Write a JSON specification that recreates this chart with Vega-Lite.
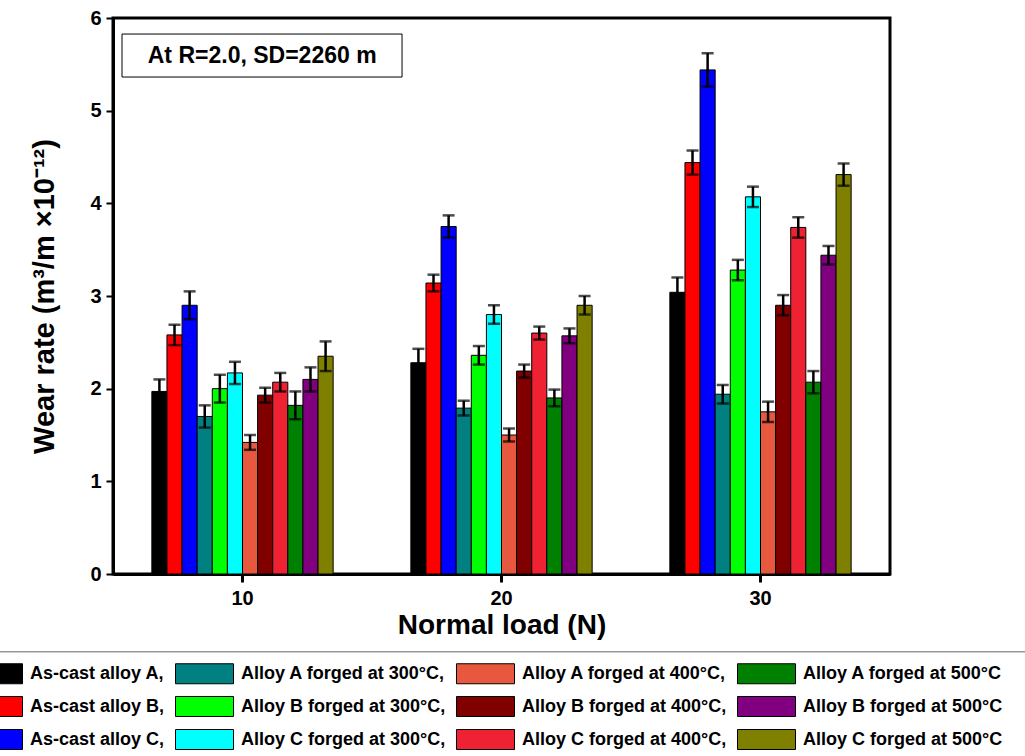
{
  "$schema": "https://vega.github.io/schema/vega-lite/v6.json",
  "width": 777,
  "height": 556,
  "autosize": {"type": "none"},
  "padding": {"left": 113, "top": 18, "right": 135, "bottom": 182},
  "background": "white",
  "config": {
    "view": {"stroke": "black", "strokeWidth": 3},
    "font": "Liberation Sans"
  },
  "layer": [
    {
      "data": {
        "values": [
          {"load": "10", "series": "As-cast alloy A", "value": 1.97, "err": 0.13},
          {"load": "10", "series": "As-cast alloy B", "value": 2.58, "err": 0.11},
          {"load": "10", "series": "As-cast alloy C", "value": 2.90, "err": 0.15},
          {"load": "10", "series": "Alloy A forged at 300°C", "value": 1.70, "err": 0.12},
          {"load": "10", "series": "Alloy B forged at 300°C", "value": 2.00, "err": 0.15},
          {"load": "10", "series": "Alloy C forged at 300°C", "value": 2.17, "err": 0.12},
          {"load": "10", "series": "Alloy A forged at 400°C", "value": 1.42, "err": 0.08},
          {"load": "10", "series": "Alloy B forged at 400°C", "value": 1.93, "err": 0.08},
          {"load": "10", "series": "Alloy C forged at 400°C", "value": 2.07, "err": 0.10},
          {"load": "10", "series": "Alloy A forged at 500°C", "value": 1.82, "err": 0.15},
          {"load": "10", "series": "Alloy B forged at 500°C", "value": 2.10, "err": 0.13},
          {"load": "10", "series": "Alloy C forged at 500°C", "value": 2.35, "err": 0.16},
          {"load": "20", "series": "As-cast alloy A", "value": 2.28, "err": 0.15},
          {"load": "20", "series": "As-cast alloy B", "value": 3.14, "err": 0.09},
          {"load": "20", "series": "As-cast alloy C", "value": 3.75, "err": 0.12},
          {"load": "20", "series": "Alloy A forged at 300°C", "value": 1.79, "err": 0.08},
          {"load": "20", "series": "Alloy B forged at 300°C", "value": 2.36, "err": 0.10},
          {"load": "20", "series": "Alloy C forged at 300°C", "value": 2.80, "err": 0.10},
          {"load": "20", "series": "Alloy A forged at 400°C", "value": 1.50, "err": 0.07},
          {"load": "20", "series": "Alloy B forged at 400°C", "value": 2.19, "err": 0.07},
          {"load": "20", "series": "Alloy C forged at 400°C", "value": 2.60, "err": 0.07},
          {"load": "20", "series": "Alloy A forged at 500°C", "value": 1.90, "err": 0.09},
          {"load": "20", "series": "Alloy B forged at 500°C", "value": 2.57, "err": 0.08},
          {"load": "20", "series": "Alloy C forged at 500°C", "value": 2.90, "err": 0.10},
          {"load": "30", "series": "As-cast alloy A", "value": 3.04, "err": 0.16},
          {"load": "30", "series": "As-cast alloy B", "value": 4.44, "err": 0.13},
          {"load": "30", "series": "As-cast alloy C", "value": 5.44, "err": 0.18},
          {"load": "30", "series": "Alloy A forged at 300°C", "value": 1.94, "err": 0.10},
          {"load": "30", "series": "Alloy B forged at 300°C", "value": 3.28, "err": 0.11},
          {"load": "30", "series": "Alloy C forged at 300°C", "value": 4.07, "err": 0.11},
          {"load": "30", "series": "Alloy A forged at 400°C", "value": 1.75, "err": 0.11},
          {"load": "30", "series": "Alloy B forged at 400°C", "value": 2.90, "err": 0.11},
          {"load": "30", "series": "Alloy C forged at 400°C", "value": 3.74, "err": 0.11},
          {"load": "30", "series": "Alloy A forged at 500°C", "value": 2.07, "err": 0.12},
          {"load": "30", "series": "Alloy B forged at 500°C", "value": 3.44, "err": 0.10},
          {"load": "30", "series": "Alloy C forged at 500°C", "value": 4.31, "err": 0.12}
        ]
      },
      "encoding": {
        "x": {
          "field": "load",
          "type": "nominal",
          "title": "Normal load (N)",
          "scale": {"paddingInner": 0.3, "paddingOuter": 0.15},
          "axis": {
            "labelAngle": 0,
            "domainColor": "black",
            "domainWidth": 3,
            "tickColor": "black",
            "tickWidth": 3,
            "tickSize": 8,
            "labelFontSize": 20,
            "labelFontWeight": "bold",
            "labelColor": "black",
            "labelPadding": 6,
            "titleFontSize": 28,
            "titleFontWeight": "bold",
            "titleColor": "black",
            "titlePadding": 3
          }
        },
        "xOffset": {
          "field": "series",
          "type": "nominal",
          "sort": [
            "As-cast alloy A", "As-cast alloy B", "As-cast alloy C",
            "Alloy A forged at 300°C", "Alloy B forged at 300°C", "Alloy C forged at 300°C",
            "Alloy A forged at 400°C", "Alloy B forged at 400°C", "Alloy C forged at 400°C",
            "Alloy A forged at 500°C", "Alloy B forged at 500°C", "Alloy C forged at 500°C"
          ],
          "scale": {"paddingInner": 0, "paddingOuter": 0}
        },
        "y": {
          "field": "value",
          "type": "quantitative",
          "title": "Wear rate (m³/m ×10⁻¹²)",
          "scale": {"domain": [0, 6], "nice": false},
          "axis": {
            "values": [0, 1, 2, 3, 4, 5, 6],
            "format": "d",
            "grid": false,
            "domainColor": "black",
            "domainWidth": 3,
            "tickColor": "black",
            "tickWidth": 2,
            "tickSize": 7,
            "labelFontSize": 20,
            "labelFontWeight": "bold",
            "labelColor": "black",
            "labelPadding": 5,
            "titleFontSize": 29,
            "titleFontWeight": "bold",
            "titleColor": "black",
            "titlePadding": 30
          }
        }
      },
      "layer": [
        {
          "mark": {"type": "bar", "stroke": "black", "strokeWidth": 1},
          "encoding": {
            "color": {
              "field": "series",
              "type": "nominal",
              "scale": {
                "domain": [
                  "As-cast alloy A", "As-cast alloy B", "As-cast alloy C",
                  "Alloy A forged at 300°C", "Alloy B forged at 300°C", "Alloy C forged at 300°C",
                  "Alloy A forged at 400°C", "Alloy B forged at 400°C", "Alloy C forged at 400°C",
                  "Alloy A forged at 500°C", "Alloy B forged at 500°C", "Alloy C forged at 500°C"
                ],
                "range": [
                  "#000000", "#FF0000", "#0000FF",
                  "#008080", "#00FF00", "#00FFFF",
                  "#E8583F", "#800000", "#EE2233",
                  "#008000", "#800080", "#808000"
                ]
              },
              "legend": {
                "orient": "none",
                "legendX": -149,
                "legendY": 645,
                "columns": 4,
                "title": null,
                "padding": 0,
                "symbolType": "M-2.9,-1L2.9,-1L2.9,1L-2.9,1Z",
                "symbolSize": 400,
                "symbolOffset": 19,
                "symbolStrokeColor": "black",
                "symbolStrokeWidth": 1,
                "symbolOpacity": 1,
                "labelFont": "Liberation Sans",
                "labelFontWeight": "bold",
                "labelFontSize": 18,
                "labelColor": "black",
                "labelOffset": 26,
                "labelLimit": 0,
                "columnPadding": 8,
                "rowPadding": 8,
                "labelExpr": "indexof(datum.label, '500') >= 0 ? datum.label : datum.label + ','"
              }
            }
          }
        },
        {
          "mark": {
            "type": "errorbar",
            "color": "black",
            "thickness": 2.5,
            "ticks": {"size": 12, "thickness": 2.5, "color": "black"}
          },
          "encoding": {
            "yError": {"field": "err"}
          }
        }
      ]
    },
    {
      "data": {"values": [{"note": "At R=2.0, SD=2260 m"}]},
      "layer": [
        {
          "mark": {"type": "rect", "fill": "white", "stroke": "black", "strokeWidth": 1},
          "encoding": {
            "x": {"datum": 0.0116, "type": "quantitative", "scale": {"domain": [0, 1]}, "axis": null},
            "x2": {"datum": 0.372},
            "y": {"datum": 5.363, "type": "quantitative"},
            "y2": {"datum": 5.827}
          }
        },
        {
          "mark": {"type": "text", "fontSize": 23, "fontWeight": "bold", "color": "black", "align": "center", "baseline": "middle"},
          "encoding": {
            "x": {"datum": 0.192, "type": "quantitative"},
            "y": {"datum": 5.595, "type": "quantitative"},
            "text": {"field": "note"}
          }
        },
        {
          "mark": {"type": "rule", "color": "#666666", "strokeWidth": 1},
          "encoding": {
            "x": {"datum": -0.2, "type": "quantitative"},
            "x2": {"datum": 1.3},
            "y": {"datum": -0.84, "type": "quantitative"}
          }
        }
      ]
    }
  ],
  "resolve": {"scale": {"x": "independent"}}
}
